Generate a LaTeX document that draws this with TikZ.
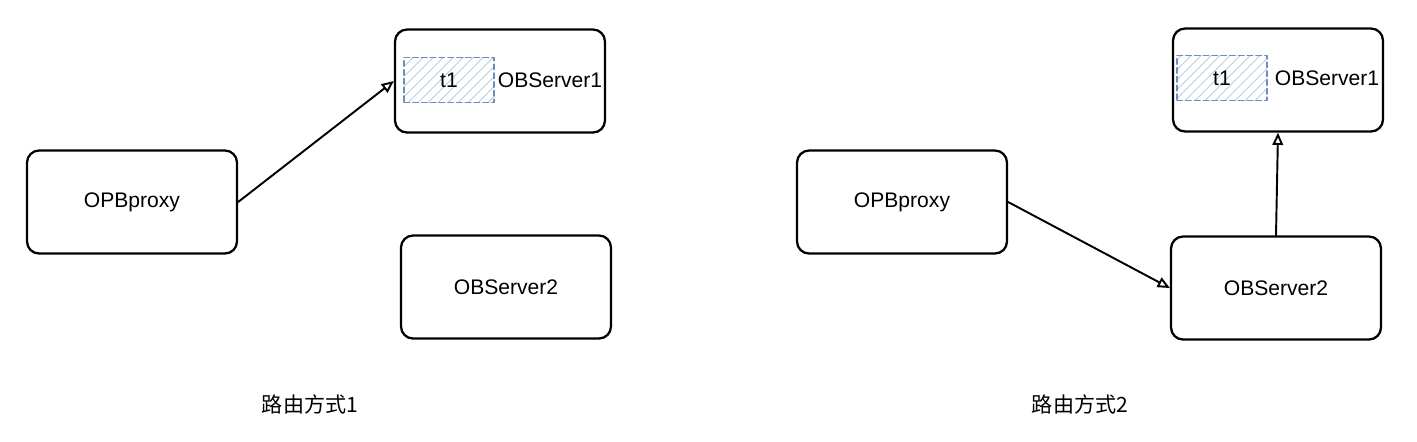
\documentclass[tikz,border=0pt]{standalone}
\usepackage{fontspec}
\setmainfont{Liberation Sans}
\newfontfamily\cjk{Noto Sans CJK SC}
\usetikzlibrary{arrows.meta,patterns.meta}
\definecolor{tblblue}{HTML}{6C8EBF}
\tikzset{
	srvbox/.style={draw=black,line width=1.3pt,rounded corners=0.24cm,minimum width=4.2cm,minimum height=2.06cm,inner sep=0pt},
	tblbox/.style={draw=tblblue,dash pattern=on 3pt off 2pt,line width=1.1pt,pattern={Lines[angle=45,distance=4pt,line width=0.6pt]},pattern color=tblblue!40,minimum width=1.8cm,minimum height=0.9cm,inner sep=0pt},
	link/.style={line width=1.1pt,-{Triangle[open,length=7pt,width=6pt]}}
}
\begin{document}
\begin{tikzpicture}[x=0.02cm,y=-0.02cm,font=\fontsize{12}{14}\selectfont,line cap=round,line join=round]
			\useasboundingbox (0,0) rectangle (1417,441);
			\path
			(132,202) coordinate (pa)
			(500,81) coordinate (sa1)
			(506,287) coordinate (sa2)
			(902,202) coordinate (pb)
			(1278,80) coordinate (sb1)
			(1276,288) coordinate (sb2);
			% left: route 1
			\node[srvbox] (proxyA) at (pa) {OPBproxy};
			\node[srvbox] (srvA1) at (sa1) {};
			\node[srvbox] (srvA2) at (sa2) {OBServer2};
			\node[tblbox] (tA) at (449,80) {t1};
			\node (labA1) at (550,80) {OBServer1};
			\node (capA) at (310,404) {\cjk 路由方式1};
			\draw[link] (proxyA.east) -- (srvA1.west);
			% right: route 2
			\node[srvbox] (proxyB) at (pb) {OPBproxy};
			\node[srvbox] (srvB1) at (sb1) {};
			\node[srvbox] (srvB2) at (sb2) {OBServer2};
			\node[tblbox] (tB) at (1222,78) {t1};
			\node (labB1) at (1327,78) {OBServer1};
			\node (capB) at (1080,404) {\cjk 路由方式2};
			\draw[link] (proxyB.east) -- (srvB2.west);
			\draw[link] (srvB2.north) -- (srvB1.south);
		\end{tikzpicture}
\end{document}
